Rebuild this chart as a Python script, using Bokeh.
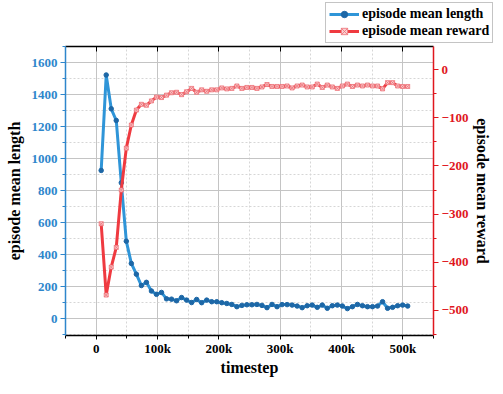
from bokeh.plotting import figure
from bokeh.models import Range1d, LinearAxis, SingleIntervalTicker, Legend, LegendItem
from bokeh.embed import file_html
from bokeh.resources import INLINE

timesteps = [8192, 16384, 24576, 32768, 40960, 49152, 57344, 65536, 73728, 81920,
             90112, 98304, 106496, 114688, 122880, 131072, 139264, 147456, 155648, 163840,
             172032, 180224, 188416, 196608, 204800, 212992, 221184, 229376, 237568, 245760,
             253952, 262144, 270336, 278528, 286720, 294912, 303104, 311296, 319488, 327680,
             335872, 344064, 352256, 360448, 368640, 376832, 385024, 393216, 401408, 409600,
             417792, 425984, 434176, 442368, 450560, 458752, 466944, 475136, 483328, 491520,
             499712, 507904]

mean_length = [926, 1522, 1311, 1238, 849, 484, 345, 278, 207, 227,
               173, 152, 164, 124, 122, 112, 132, 116, 101, 120,
               100, 116, 106, 106, 100, 95, 89, 75, 83, 87,
               87, 89, 83, 69, 89, 75, 88, 88, 85, 79,
               69, 81, 85, 71, 85, 65, 81, 85, 79, 63,
               75, 89, 81, 75, 75, 79, 106, 65, 71, 81,
               85, 79]

mean_reward = [-320, -468, -410, -369, -250, -163, -115, -84, -72, -74,
               -65, -57, -58, -53, -48, -47, -52, -46, -39, -47,
               -42, -45, -42, -42, -38, -40, -39, -34, -39, -37,
               -37, -39, -36, -31, -35, -35, -35, -34, -38, -34,
               -32, -36, -36, -30, -37, -32, -36, -39, -34, -30,
               -35, -32, -34, -32, -34, -34, -40, -27, -27, -34,
               -35, -35]

x_tick_labels = {0: "0", 100000: "100k", 200000: "200k", 300000: "300k",
                 400000: "400k", 500000: "500k"}
series_names = ["episode mean length", "episode mean reward"]

BLUE = "#2f95d8"
BLUE_DARK = "#1d67a6"
BLUE_AXIS = "#2e86cc"
RED = "#ef3a40"
RED_AXIS = "#e0161e"
RED_MARK_FILL = "#f9d0d2"
RED_MARK_LINE = "#ee7076"
FONT = "Liberation Serif"

p = figure(width=495, height=378, output_backend="svg", toolbar_location=None,
           x_range=Range1d(-50000, 550000), y_range=Range1d(-105, 1700),
           min_border_left=65, min_border_right=62, min_border_top=46, min_border_bottom=36)
p.outline_line_color = None
p.background_fill_color = "white"
p.border_fill_color = "white"

xt = SingleIntervalTicker(interval=100000, num_minor_ticks=2)
yt = SingleIntervalTicker(interval=200, num_minor_ticks=2)
rt = SingleIntervalTicker(interval=100, num_minor_ticks=2)

p.extra_y_ranges = {"reward": Range1d(-552, 48)}

# bottom axis
xa = p.xaxis[0]
xa.ticker = xt
xa.major_label_overrides = x_tick_labels
xa.axis_label = "timestep"
xa.axis_line_color = "black"
xa.axis_line_width = 1.5
xa.major_tick_line_color = "black"
xa.minor_tick_line_color = "black"
xa.major_tick_out = 4
xa.major_tick_in = 0
xa.minor_tick_out = 3
xa.minor_tick_in = 0
xa.major_label_standoff = 1
xa.axis_label_standoff = 0
xa.major_label_text_font = FONT
xa.major_label_text_font_style = "bold"
xa.major_label_text_font_size = "13px"
xa.major_label_text_color = "black"
xa.axis_label_text_font = FONT
xa.axis_label_text_font_style = "bold"
xa.axis_label_text_font_size = "16px"
xa.axis_label_text_color = "black"

# left axis
ya = p.yaxis[0]
ya.ticker = yt
ya.axis_label = "episode mean length"
ya.axis_line_color = BLUE_AXIS
ya.axis_line_width = 1.5
ya.major_tick_line_color = BLUE_AXIS
ya.minor_tick_line_color = BLUE_AXIS
ya.major_tick_out = 5
ya.major_tick_in = 0
ya.minor_tick_out = 3
ya.minor_tick_in = 0
ya.major_label_standoff = 3
ya.axis_label_standoff = 6
ya.major_label_text_font = FONT
ya.major_label_text_font_style = "bold"
ya.major_label_text_font_size = "13px"
ya.major_label_text_color = BLUE_AXIS
ya.axis_label_text_font = FONT
ya.axis_label_text_font_style = "bold"
ya.axis_label_text_font_size = "16px"
ya.axis_label_text_color = "black"

# right axis
ra = LinearAxis(y_range_name="reward", ticker=rt, axis_label="episode mean reward")
ra.axis_line_color = RED_AXIS
ra.axis_line_width = 1.5
ra.major_tick_line_color = RED_AXIS
ra.minor_tick_line_color = RED_AXIS
ra.major_tick_out = 5
ra.major_tick_in = 0
ra.minor_tick_out = 3
ra.minor_tick_in = 0
ra.major_label_standoff = 3
ra.axis_label_standoff = 3
ra.major_label_text_font = FONT
ra.major_label_text_font_style = "bold"
ra.major_label_text_font_size = "13px"
ra.major_label_text_color = RED_AXIS
ra.axis_label_text_font = FONT
ra.axis_label_text_font_style = "bold"
ra.axis_label_text_font_size = "16px"
ra.axis_label_text_color = "black"
p.add_layout(ra, "right")

# top axis (frame line with inward ticks)
ta = LinearAxis(ticker=xt)
ta.major_label_text_font_size = "0px"
ta.major_label_text_color = None
ta.axis_line_color = "black"
ta.axis_line_width = 1.5
ta.major_tick_line_color = "black"
ta.major_tick_in = 5
ta.major_tick_out = 0
ta.minor_tick_line_color = None
ta.major_label_standoff = 0
p.add_layout(ta, "above")

# grids
p.xgrid.ticker = xt
p.xgrid.grid_line_color = "#c4c4c4"
p.xgrid.grid_line_width = 1
p.xgrid.minor_grid_line_color = "#d6d6d6"
p.xgrid.minor_grid_line_dash = "2 2"
p.ygrid.ticker = yt
p.ygrid.grid_line_color = "#c4c4c4"
p.ygrid.grid_line_width = 1
p.ygrid.minor_grid_line_color = "#d6d6d6"
p.ygrid.minor_grid_line_dash = "2 2"

# series
p.line(timesteps, mean_length, line_color=BLUE, line_width=3)
p.scatter(timesteps, mean_length, marker="circle", size=4.5,
          fill_color=BLUE_DARK, line_color=BLUE_DARK)
p.line(timesteps, mean_reward, line_color=RED, line_width=3, y_range_name="reward")
p.scatter(timesteps, mean_reward, marker="square_x", size=4, y_range_name="reward",
          fill_color=RED_MARK_FILL, line_color=RED_MARK_LINE, line_width=0.8)

# legend box: a separate small root figure placed over the top-right corner of the chart.
# Its ranges lie far outside the data, so only the legend itself is visible there.
lf = figure(width=170, height=41, output_backend="svg", toolbar_location=None,
            x_axis_type=None, y_axis_type=None,
            x_range=Range1d(-3e6, -2e6), y_range=Range1d(-3e6, -2e6),
            min_border=0, min_border_left=0, min_border_right=0,
            min_border_top=0, min_border_bottom=0,
            styles={"position": "absolute", "left": "325px", "top": "2px"})
lf.outline_line_color = None
lf.background_fill_alpha = 0
lf.border_fill_alpha = 0
lf.grid.visible = False
g1 = lf.line(timesteps, mean_length, line_color=BLUE, line_width=3)
m1 = lf.scatter(timesteps, mean_length, marker="circle", size=4.5,
                fill_color=BLUE_DARK, line_color=BLUE_DARK)
g2 = lf.line(timesteps, mean_reward, line_color=RED, line_width=3)
m2 = lf.scatter(timesteps, mean_reward, marker="square_x", size=4, fill_color=RED_MARK_FILL,
                line_color=RED_MARK_LINE, line_width=0.8)

legend = Legend(items=[LegendItem(label=series_names[0], renderers=[g1, m1]),
                       LegendItem(label=series_names[1], renderers=[g2, m2])],
                location="top_left")
legend.label_text_font = FONT
legend.label_text_font_style = "bold"
legend.label_text_font_size = "14px"
legend.label_text_color = "black"
legend.glyph_width = 30
legend.glyph_height = 16
legend.label_height = 16
legend.label_standoff = 3
legend.spacing = 1
legend.padding = 3
legend.margin = 0
legend.border_line_color = "#8a8a8a"
legend.border_line_width = 1
legend.background_fill_color = "white"
legend.background_fill_alpha = 1
lf.add_layout(legend, "center")

open("out.html", "w").write(file_html([p, lf], INLINE))
